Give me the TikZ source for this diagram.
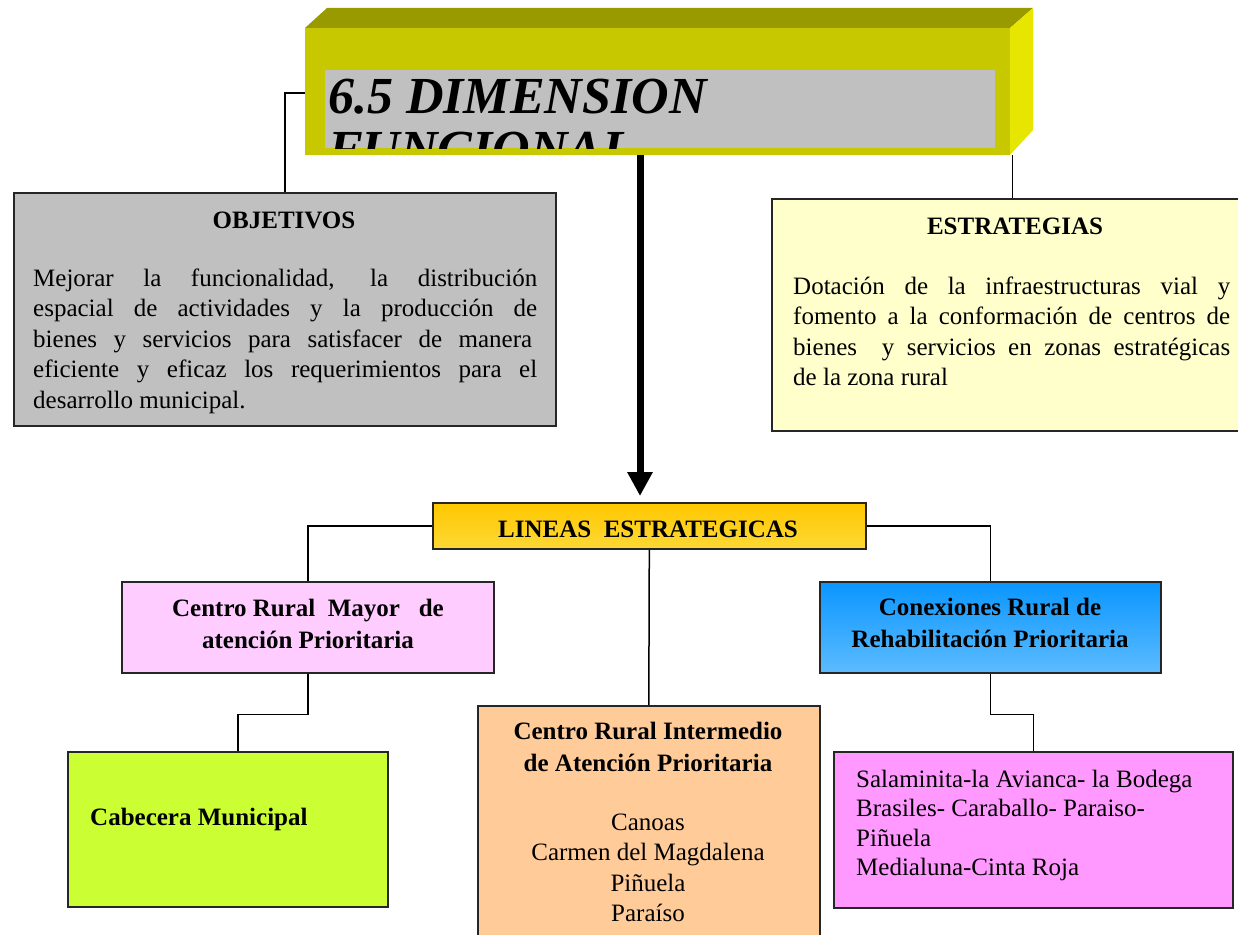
\documentclass[tikz,border=0pt]{standalone}
\usepackage{fontspec}
\setmainfont{Liberation Serif}
\usetikzlibrary{arrows.meta}
\definecolor{olivetop}{HTML}{999900}
\definecolor{olivefront}{HTML}{C8C800}
\definecolor{oliveside}{HTML}{E6E600}
\definecolor{titlegray}{HTML}{C0C0C0}
\definecolor{objgray}{HTML}{C0C0C0}
\definecolor{estyellow}{HTML}{FFFFCC}
\definecolor{linorange1}{HTML}{FFC800}
\definecolor{linorange2}{HTML}{FDD835}
\definecolor{mayorpink}{HTML}{FFCCFF}
\definecolor{cabgreen}{HTML}{CCFF33}
\definecolor{interpeach}{HTML}{FFCC99}
\definecolor{conblue1}{HTML}{0A96FF}
\definecolor{conblue2}{HTML}{5CBBFF}
\definecolor{salpink}{HTML}{FF99FF}
\begin{document}
\begin{tikzpicture}[x=1pt,y=-1pt,
  box/.style={draw=black!85, line width=1.6pt, rectangle, inner sep=0pt, anchor=north west},
  conn/.style={draw=black, line width=1.5pt},
  bodytxt/.style={font=\fontsize{25}{30.5}\selectfont, inner sep=0pt},
  boldtxt/.style={font=\fontsize{25}{32}\selectfont\bfseries, inner sep=0pt, align=center},
  titletxt/.style={font=\fontsize{52}{54}\selectfont\bfseries\itshape, inner sep=0pt, anchor=base west},
]
\useasboundingbox (0,0) rectangle (1238,934);
\fill[white] (0,0) rectangle (1238,934);

% 3D header
\fill[olivetop] (305,28) -- (327,8) -- (1033,8) -- (1010,28) -- cycle;
\fill[oliveside] (1010,28) -- (1033,8) -- (1033,130) -- (1010,155) -- cycle;
\node[rectangle, fill=olivefront, inner sep=0pt, anchor=north west, minimum width=705pt, minimum height=127pt] (header) at (305,28) {};
\node[rectangle, fill=titlegray, inner sep=0pt, anchor=north west, minimum width=670pt, minimum height=78pt] (titlebg) at (325,70) {};
\begin{scope}
  \clip (titlebg.north west) rectangle (titlebg.south east);
  \node[titletxt] (title1) at (328,113) {6.5 DIMENSION};
  \node[titletxt] (title2) at (328,166) {FUNCIONAL};
\end{scope}

% boxes
\node[box, fill=objgray, minimum width=542pt, minimum height=233pt] (obj) at (13,192) {};
\node[box, fill=estyellow, minimum width=475pt, minimum height=232pt] (est) at (771,198) {};
\node[box, top color=linorange1, bottom color=linorange2, minimum width=433pt, minimum height=46pt] (lin) at (432,502) {};
\node[box, fill=mayorpink, minimum width=372pt, minimum height=91pt] (mayor) at (121,581) {};
\node[box, top color=conblue1, bottom color=conblue2, minimum width=341pt, minimum height=91pt] (con) at (819,581) {};
\node[box, fill=cabgreen, minimum width=320pt, minimum height=155pt] (cab) at (67,751) {};
\node[box, fill=interpeach, minimum width=342pt, minimum height=240pt] (inter) at (477,705) {};
\node[box, fill=salpink, minimum width=399pt, minimum height=156pt] (sal) at (833,751) {};

% connectors
\draw[conn] ([yshift=-65pt]header.north west) -| (obj.north);
\draw[conn] ([xshift=2pt]header.south east) -- ([xshift=2pt]header.south east |- est.north);
\coordinate (arrowx) at (640,0);
\draw[line width=7pt, shorten >=6pt, -{Triangle[width=24pt,length=24pt]}] (header.south -| arrowx) -- (lin.north -| arrowx);
\draw[conn] (lin.west) -| (mayor.north);
\draw[conn] (lin.east) -| (con.north);
\draw[conn] (lin.south) -- (inter.north);
\draw[conn] (mayor.south) -- ++(0,41) -| ([xshift=10pt]cab.north);
\draw[conn] (con.south) -- ++(0,41) -| (sal.north);

% texts
\node[boldtxt, anchor=base] (objt) at (284,228) {OBJETIVOS};
\node[bodytxt, anchor=north west, align=left] (objb) at (33,266) {%
\rule{0pt}{20pt}\makebox[504pt][s]{Mejorar la funcionalidad, la distribución}\\
\makebox[504pt][s]{espacial de actividades y la producción de}\\
\makebox[499pt][s]{bienes y servicios para satisfacer de manera}\\
\makebox[504pt][s]{eficiente y eficaz los requerimientos para el}\\
desarrollo municipal.};

\node[boldtxt, anchor=base] (estt) at (1015,234) {ESTRATEGIAS};
\node[bodytxt, anchor=north west, align=left] (estb) at (793,274) {%
\rule{0pt}{20pt}\makebox[437pt][s]{Dotación de la infraestructuras vial y}\\
\makebox[437pt][s]{fomento a la conformación de centros de}\\
\makebox[437pt][s]{bienes\ \ y servicios en zonas estratégicas}\\
de la zona rural};

\node[boldtxt, anchor=base] (lint) at (648,537) {LINEAS\ \ ESTRATEGICAS};
\node[boldtxt, anchor=north] (mayort) at (308,596) {\rule{0pt}{20pt}Centro Rural\ \ Mayor\ \ \ de\\atención Prioritaria};
\node[boldtxt, anchor=north] (cont) at (990,595) {\rule{0pt}{20pt}Conexiones Rural de\\Rehabilitación Prioritaria};
\node[boldtxt, anchor=base west] (cabt) at (90,825) {Cabecera Municipal};
\node[boldtxt, anchor=north] (intert) at (648,719) {\rule{0pt}{20pt}Centro Rural Intermedio\\de Atención Prioritaria};
\node[bodytxt, anchor=north, align=center] (interb) at (648,810) {\rule{0pt}{20pt}Canoas\\Carmen del Magdalena\\Piñuela\\Paraíso};
\node[bodytxt, anchor=north west, align=left, font=\fontsize{25}{29.5}\selectfont] (salb) at (856,767) {\rule{0pt}{20pt}Salaminita-la Avianca- la Bodega\\Brasiles- Caraballo- Paraiso-\\Piñuela\\Medialuna-Cinta Roja};
\end{tikzpicture}
\end{document}
